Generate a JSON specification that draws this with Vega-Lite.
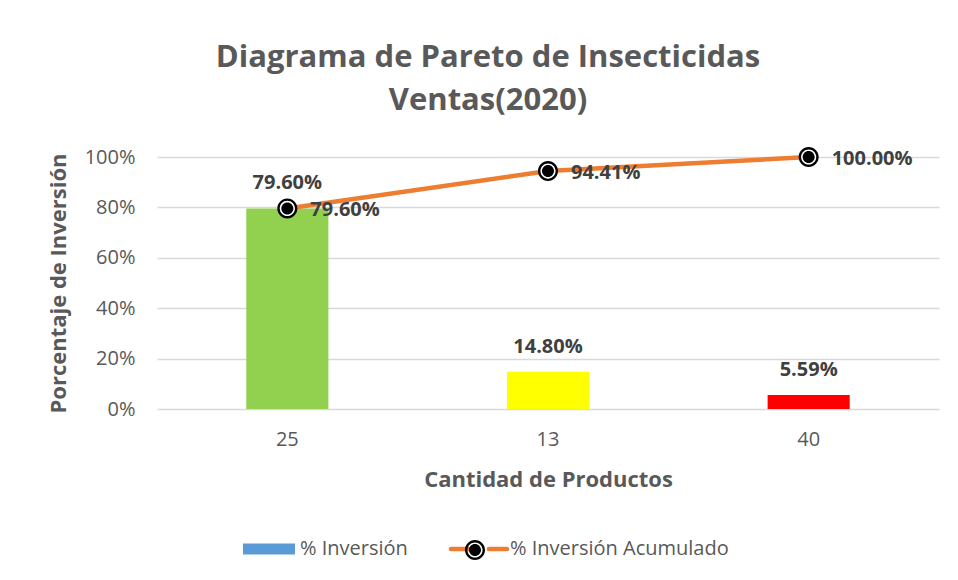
{
  "$schema": "https://vega.github.io/schema/vega-lite/v6.json",
  "autosize": "none",
  "width": 782,
  "height": 252,
  "padding": {"left": 157, "top": 157, "right": 19, "bottom": 171},
  "background": "white",
  "config": {"font": "Open Sans", "view": {"stroke": null}},
  "title": {
    "text": ["Diagrama de Pareto de Insecticidas", "Ventas(2020)"],
    "fontSize": 31,
    "fontWeight": "bold",
    "color": "#595959",
    "anchor": "middle",
    "dx": -60,
    "offset": 30,
    "lineHeight": 43
  },
  "data": {
    "values": [
      {"cant": "25", "pct": 0.796, "acum": 0.796},
      {"cant": "13", "pct": 0.148, "acum": 0.9441},
      {"cant": "40", "pct": 0.0559, "acum": 1.0}
    ]
  },
  "encoding": {
    "x": {
      "field": "cant",
      "type": "nominal",
      "sort": null,
      "scale": {"paddingInner": 0.685, "paddingOuter": 0.3425},
      "axis": {
        "title": "Cantidad de Productos",
        "labelAngle": 0,
        "labelFontSize": 20,
        "labelColor": "#595959",
        "labelPadding": 20,
        "ticks": false,
        "domain": false,
        "titleFontSize": 22,
        "titleFontWeight": "bold",
        "titleColor": "#595959",
        "titlePadding": 20
      }
    }
  },
  "layer": [
    {
      "mark": {"type": "bar"},
      "encoding": {
        "y": {
          "field": "pct",
          "type": "quantitative",
          "scale": {"domain": [0, 1], "nice": false},
          "axis": {
            "title": "Porcentaje de Inversión",
            "values": [0, 0.2, 0.4, 0.6, 0.8, 1],
            "format": ".0%",
            "grid": true,
            "gridColor": "#D9D9D9",
            "gridWidth": 1.5,
            "domain": false,
            "ticks": false,
            "labelFontSize": 20,
            "labelColor": "#595959",
            "labelPadding": 22,
            "titleFontSize": 22,
            "titleFontWeight": "bold",
            "titleColor": "#595959",
            "titlePadding": 14
          }
        },
        "fill": {
          "field": "cant",
          "type": "nominal",
          "scale": {"domain": ["25", "13", "40"], "range": ["#92D050", "#FFFF00", "#FF0000"]},
          "legend": null
        }
      }
    },
    {
      "mark": {"type": "text", "dy": -25, "fontSize": 20, "fontWeight": "bold", "color": "#404040", "baseline": "middle"},
      "encoding": {
        "y": {"field": "pct", "type": "quantitative"},
        "text": {"field": "pct", "type": "quantitative", "format": ".2%"}
      }
    },
    {
      "mark": {"type": "line", "strokeWidth": 4.5, "strokeCap": "round"},
      "encoding": {
        "y": {"field": "acum", "type": "quantitative"},
        "stroke": {
          "datum": "% Inversión Acumulado",
          "scale": {"domain": ["% Inversión", "% Inversión Acumulado"], "range": ["#5B9BD5", "#ED7D31"]},
          "legend": {
            "title": null,
            "orient": "none",
            "legendX": 102,
            "legendY": 382,
            "direction": "horizontal",
            "padding": 0,
            "symbolSize": 400,
            "labelFontSize": 20,
            "labelColor": "#595959",
            "labelOffset": 21,
            "labelLimit": 400,
            "columnPadding": 34,
            "encode": {
              "symbols": {
                "update": {
                  "shape": {"signal": "datum.value === '% Inversión' ? 'M-2.6,-0.55H2.6V0.55H-2.6Z' : 'M-2.8,0H-1M1,0H2.8'"},
                  "fill": {"signal": "datum.value === '% Inversión' ? '#5B9BD5' : 'transparent'"},
                  "stroke": {"signal": "datum.value === '% Inversión' ? '#5B9BD5' : '#ED7D31'"},
                  "strokeWidth": {"signal": "datum.value === '% Inversión' ? 0 : 4.5"},
                  "strokeCap": {"value": "round"}
                }
              }
            }
          }
        }
      }
    },
    {
      "mark": {"type": "point", "filled": true, "shape": "circle", "size": 256, "color": "white", "opacity": 1},
      "encoding": {"y": {"field": "acum", "type": "quantitative"}}
    },
    {
      "mark": {"type": "point", "filled": true, "size": 400, "color": "black", "opacity": 1, "strokeWidth": 0},
      "encoding": {
        "y": {"field": "acum", "type": "quantitative"},
        "shape": {
          "datum": "% Inversión Acumulado",
          "scale": {
            "domain": ["% Inversión Acumulado"],
            "range": ["M1,0A1,1,0,1,1,-1,0A1,1,0,1,1,1,0ZM0.76,0A0.76,0.76,0,1,0,-0.76,0A0.76,0.76,0,1,0,0.76,0ZM0.6,0A0.6,0.6,0,1,1,-0.6,0A0.6,0.6,0,1,1,0.6,0Z"]
          },
          "legend": {
            "title": null,
            "orient": "none",
            "legendX": 308,
            "legendY": 383,
            "padding": 0,
            "symbolSize": 400,
            "symbolFillColor": "black",
            "symbolStrokeWidth": 0,
            "labelExpr": "''"
          }
        }
      }
    },
    {
      "mark": {"type": "text", "align": "left", "baseline": "middle", "dx": 23, "dy": 2, "fontSize": 20, "fontWeight": "bold", "color": "#404040"},
      "encoding": {
        "y": {"field": "acum", "type": "quantitative"},
        "text": {"field": "acum", "type": "quantitative", "format": ".2%"}
      }
    }
  ]
}
